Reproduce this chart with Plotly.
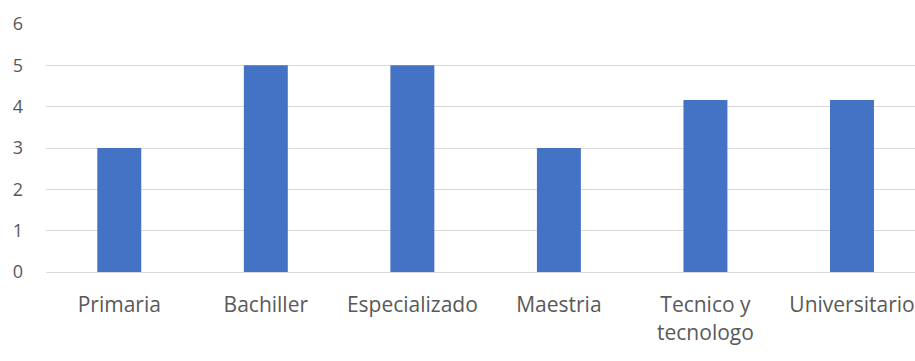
import plotly.graph_objects as go

categories = ["Primaria", "Bachiller", "Especializado", "Maestria", "Tecnico y<br>tecnologo", "Universitario"]
values = [3, 5, 5, 3, 4.16, 4.16]
y_ticks = [0, 1, 2, 3, 4, 5, 6]

fig = go.Figure(
    go.Bar(
        x=list(range(len(categories))),
        y=values,
        marker=dict(color="#4472C4", line=dict(width=0)),
        width=0.3,
    )
)

fig.update_layout(
    width=915,
    height=361,
    margin=dict(l=46, r=0, t=24, b=89),
    paper_bgcolor="white",
    plot_bgcolor="white",
    showlegend=False,
    font=dict(family="Open Sans, Noto Sans, sans-serif", size=19, color="#595959"),
)
fig.update_xaxes(
    range=[-0.5, 5.43],
    tickmode="array",
    tickvals=list(range(len(categories))),
    ticktext=categories,
    showgrid=False,
    showline=True,
    linecolor="#d9d9d9",
    linewidth=1,
    ticks="",
    ticklabelstandoff=14,
    tickfont=dict(size=21),
)
fig.update_yaxes(
    range=[0, 6],
    tickmode="array",
    tickvals=y_ticks,
    showgrid=True,
    gridcolor="#d9d9d9",
    gridwidth=1,
    zeroline=False,
    ticks="",
    ticklabelstandoff=22,
    tickfont=dict(size=18),
)

fig.write_html("out.html")
